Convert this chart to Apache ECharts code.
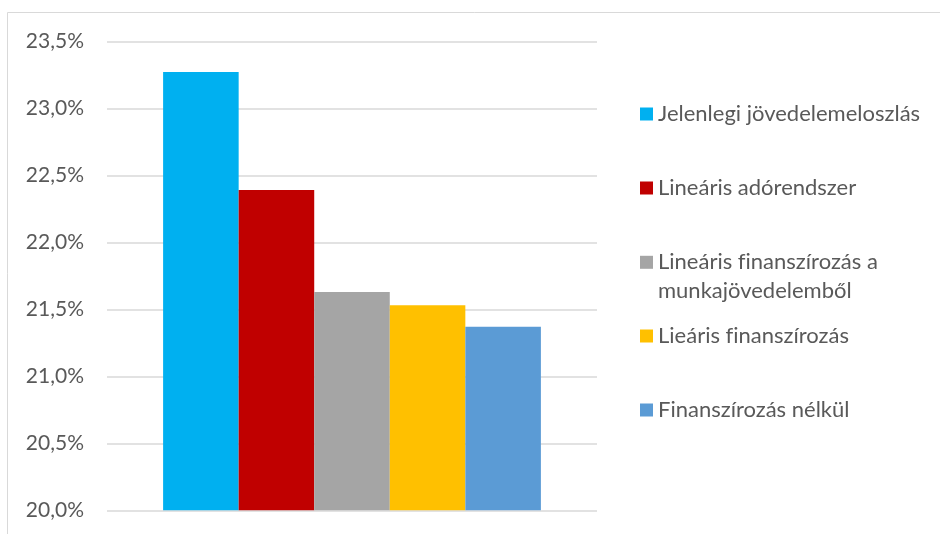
<!DOCTYPE html>
<html>
<head>
<meta charset="utf-8">
<script src="https://cdn.jsdelivr.net/npm/echarts@6/dist/echarts.min.js"></script>
<style>
  html, body { margin: 0; padding: 0; background: #fff; }
  #chart { width: 940px; height: 534px; }
</style>
</head>
<body>
<div id="chart"></div>
<script>
// Szcenáriók és a hozzájuk tartozó értékek (%)
const seriesNames = [
  'Jelenlegi jövedelemeloszlás',
  'Lineáris adórendszer',
  'Lineáris finanszírozás a munkajövedelemből',
  'Lieáris finanszírozás',
  'Finanszírozás nélkül'
];
const seriesValues = [23.27, 22.39, 21.63, 21.53, 21.37];
const seriesColors = ['#00B0F0', '#C00000', '#A5A5A5', '#FFC000', '#5B9BD5'];
const categories = [''];
const yTicks = { min: 20, max: 23.5, step: 0.5 };

const FONT = 'Lato';
const TEXT_COLOR = '#595959';
const LEGEND_LINE = 29;

// Legend rows: icon centres, one legend per row
const legendCentres = [114, 188, 262.3, 336, 410];
const legendLabels = {
  'Lineáris finanszírozás a munkajövedelemből': '\nLineáris finanszírozás a\nmunkajövedelemből'
};
// keep "f" and "i" as separate glyphs (no ligature)
const plainText = (s) => s.replace(/fi/g, 'f\u200Ci');

const legends = seriesNames.map((name, i) => {
  const label = legendLabels[name] || name;
  const lines = label.split('\n').length;
  const halfHeight = lines * LEGEND_LINE / 2;
  return {
    data: [name],
    orient: 'vertical',
    left: 640,
    top: legendCentres[i] - halfHeight,
    padding: 0,
    itemWidth: 13,
    itemHeight: 13,
    selectedMode: false,
    icon: 'rect',
    formatter: (n) => plainText(legendLabels[n] || n),
    textStyle: {
      fontFamily: FONT,
      fontSize: 22,
      color: TEXT_COLOR,
      lineHeight: LEGEND_LINE
    }
  };
});

const series = seriesNames.map((name, i) => ({
  name: name,
  type: 'bar',
  data: [seriesValues[i]],
  barGap: '0%',
  barCategoryGap: '22.9%',
  itemStyle: { color: seriesColors[i] },
  emphasis: { disabled: true }
}));

const chart = echarts.init(document.getElementById('chart'), null, { renderer: 'canvas' });
chart.setOption({
  animation: false,
  backgroundColor: '#ffffff',
  textStyle: { fontFamily: FONT },
  color: seriesColors,
  graphic: [{
    type: 'rect',
    shape: { x: 7.5, y: 12.5, width: 1000, height: 1000 },
    style: { fill: 'none', stroke: '#d9d9d9', lineWidth: 1 },
    silent: true
  }],
  grid: {
    left: 107,
    right: 343,
    top: 41.3,
    bottom: 23.7,
    containLabel: false
  },
  xAxis: {
    type: 'category',
    data: categories,
    axisLine: { show: false },
    axisTick: { show: false },
    axisLabel: { show: false },
    splitLine: { show: false }
  },
  yAxis: {
    type: 'value',
    min: yTicks.min,
    max: yTicks.max,
    interval: yTicks.step,
    axisLine: { show: false },
    axisTick: { show: false },
    axisLabel: {
      margin: 23,
      color: TEXT_COLOR,
      fontFamily: FONT,
      fontSize: 21,
      formatter: (v) => v.toFixed(1).replace('.', ',') + '%'
    },
    splitLine: { lineStyle: { color: '#d9d9d9', width: 1.5 } }
  },
  legend: legends,
  series: series
});
</script>
</body>
</html>
